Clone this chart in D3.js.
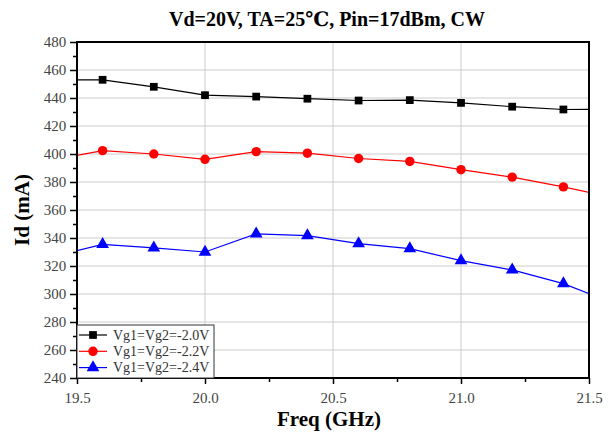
<!DOCTYPE html>
<html>
<head>
<meta charset="utf-8">
<script src="https://cdn.jsdelivr.net/npm/d3@7"></script>
<style>
  body { margin: 0; background: #fff; }
</style>
</head>
<body>
<script>
var freqGHz = [19.4, 19.6, 19.8, 20.0, 20.2, 20.4, 20.6, 20.8, 21.0, 21.2, 21.4, 21.6];
var idVg20 = [453, 453, 448, 442, 441, 439.5, 438.2, 438.5, 436.5, 433.8, 431.8, 432];
var idVg22 = [395.6, 402.4, 400, 396.2, 401.7, 400.6, 396.8, 394.7, 388.8, 383.5, 376.5, 368.8];
var idVg24 = [326.5, 335.5, 333, 330, 343, 341.7, 336, 332.4, 323.8, 317.2, 307.4, 293];
var seriesNames = ["Vg1=Vg2=-2.0V", "Vg1=Vg2=-2.2V", "Vg1=Vg2=-2.4V"];
var xTicks = [19.5, 20.0, 20.5, 21.0, 21.5];
var yTicks = [240, 260, 280, 300, 320, 340, 360, 380, 400, 420, 440, 460, 480];

var width = 614, height = 432;
var margin = { top: 42, right: 25, bottom: 54, left: 77 };
var plotW = width - margin.left - margin.right;
var plotH = height - margin.top - margin.bottom;

var series = [
  { name: seriesNames[0], values: idVg20, color: "#000000", shape: d3.symbolSquare, size: 60 },
  { name: seriesNames[1], values: idVg22, color: "#ff0000", shape: d3.symbolCircle, size: 70 },
  { name: seriesNames[2], values: idVg24, color: "#0000ff", shape: d3.symbolTriangle, size: 70 }
];

var svg = d3.select("body").append("svg")
    .attr("width", width)
    .attr("height", height);

var g = svg.append("g")
    .attr("transform", "translate(" + margin.left + "," + margin.top + ")");

var x = d3.scaleLinear().domain([19.5, 21.5]).range([0, plotW]);
var y = d3.scaleLinear().domain([240, 480]).range([plotH, 0]);

svg.append("defs").append("clipPath").attr("id", "plotClip")
  .append("rect").attr("width", plotW).attr("height", plotH);

// grid
g.append("g").selectAll("line.gy")
  .data(yTicks.slice(1, -1))
  .enter().append("line")
    .attr("x1", 0).attr("x2", plotW)
    .attr("y1", function(d) { return y(d); })
    .attr("y2", function(d) { return y(d); })
    .attr("stroke", "#cccccc").attr("stroke-width", 1);

g.append("g").selectAll("line.gx")
  .data(xTicks.slice(1, -1))
  .enter().append("line")
    .attr("y1", 0).attr("y2", plotH)
    .attr("x1", function(d) { return x(d); })
    .attr("x2", function(d) { return x(d); })
    .attr("stroke", "#cccccc").attr("stroke-width", 1);

// series
var plot = g.append("g").attr("clip-path", "url(#plotClip)");
var line = d3.line()
    .x(function(d, i) { return x(freqGHz[i]); })
    .y(function(d) { return y(d); });

series.forEach(function(s) {
  plot.append("path")
    .datum(s.values)
    .attr("d", line)
    .attr("fill", "none")
    .attr("stroke", s.color)
    .attr("stroke-width", 1.2);
  plot.selectAll(null)
    .data(s.values)
    .enter().append("path")
      .attr("d", d3.symbol().type(s.shape).size(s.size))
      .attr("transform", function(d, i) { return "translate(" + x(freqGHz[i]) + "," + y(d) + ")"; })
      .attr("fill", s.color);
});

// axes
var tickFont = "'Liberation Serif', 'DejaVu Serif', serif";

var xAxis = g.append("g")
    .attr("transform", "translate(0," + plotH + ")")
    .call(d3.axisBottom(x).tickValues(xTicks).tickSize(6).tickFormat(d3.format(".1f")));
g.append("g")
    .attr("transform", "translate(0," + plotH + ")")
    .call(d3.axisBottom(x).tickValues(d3.range(19.75, 21.5, 0.5)).tickSize(4).tickFormat(""))
    .select(".domain").remove();

var yAxis = g.append("g")
    .call(d3.axisLeft(y).tickValues(yTicks).tickSize(7));
g.append("g")
    .call(d3.axisLeft(y).tickValues(d3.range(250, 480, 20)).tickSize(4).tickFormat(""))
    .select(".domain").remove();

[xAxis, yAxis].forEach(function(a) {
  a.select(".domain").remove();
  a.selectAll("text")
    .attr("fill", "#444")
    .style("font-family", tickFont)
    .style("font-size", "15px");
});
xAxis.selectAll("text").attr("dy", "1.05em");
yAxis.selectAll("text").attr("dx", "-0.05em");
g.selectAll(".tick line").attr("stroke", "#000").attr("stroke-width", 1.5);

g.append("rect")
    .attr("width", plotW).attr("height", plotH)
    .attr("fill", "none")
    .attr("stroke", "#000")
    .attr("stroke-width", 2);

// legend
var legend = g.append("g").attr("transform", "translate(0," + (plotH - 53) + ")");
legend.append("rect")
    .attr("width", 137).attr("height", 53)
    .attr("fill", "#fff")
    .attr("stroke", "#333")
    .attr("stroke-width", 1);

series.forEach(function(s, i) {
  var row = legend.append("g").attr("transform", "translate(0," + (10 + i * 16.3) + ")");
  row.append("line")
    .attr("x1", 2).attr("x2", 30)
    .attr("stroke", s.color).attr("stroke-width", 1.2);
  row.append("path")
    .attr("d", d3.symbol().type(s.shape).size(s.size))
    .attr("transform", "translate(16,0)")
    .attr("fill", s.color);
  row.append("text")
    .attr("x", 36).attr("y", 4.5)
    .attr("fill", "#333")
    .style("font-family", tickFont)
    .style("font-size", "14px")
    .text(s.name);
});

// titles
svg.append("text")
    .attr("x", margin.left + plotW / 2 - 6)
    .attr("y", 26)
    .attr("text-anchor", "middle")
    .style("font-family", tickFont)
    .style("font-weight", "bold")
    .style("font-size", "20px")
    .text("Vd=20V, TA=25℃, Pin=17dBm, CW");

svg.append("text")
    .attr("x", margin.left + plotW / 2 - 4)
    .attr("y", 426)
    .attr("text-anchor", "middle")
    .style("font-family", tickFont)
    .style("font-weight", "bold")
    .style("font-size", "21px")
    .text("Freq (GHz)");

svg.append("text")
    .attr("transform", "translate(29," + (margin.top + plotH / 2) + ") rotate(-90)")
    .attr("text-anchor", "middle")
    .style("font-family", tickFont)
    .style("font-weight", "bold")
    .style("font-size", "21px")
    .text("Id (mA)");
</script>
</body>
</html>
